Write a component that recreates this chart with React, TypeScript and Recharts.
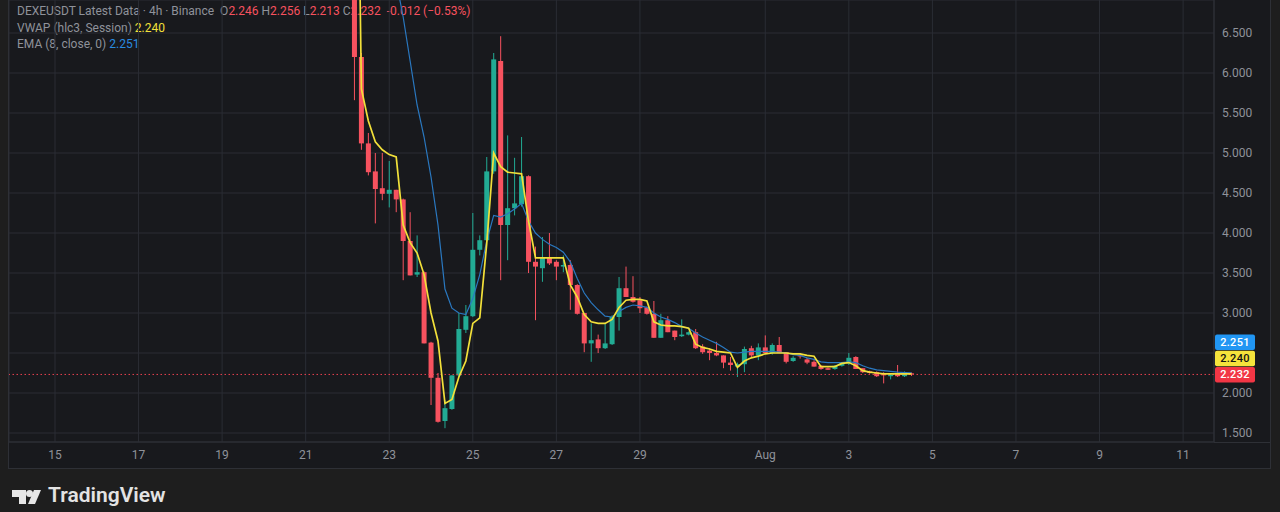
import { Bar, CartesianGrid, ComposedChart, Line, ReferenceLine, XAxis, YAxis } from 'recharts'

// 4h candles, first one opens Jul 22 04:00 (days counted from Jul 15 00:00)
const START_DAY = 7
const FIRST_HOUR = 4

const open = [
  7.3, 6.2, 5.12, 4.77, 4.56, 4.49, 4.54, 4.42, 3.9, 3.48,
  3.51, 2.63, 2.19, 1.65, 1.8, 2.22, 2.79, 2.96, 3.79, 3.91,
  4.77, 6.15, 4.1, 4.31, 4.36, 4.71, 3.64, 3.56, 3.69, 3.64,
  3.58, 3.6, 3.35, 3.0, 2.62, 2.67, 2.56, 2.61, 2.95, 3.31,
  3.2, 3.16, 3.07, 2.99, 2.69, 2.91, 2.78, 2.71, 2.73, 2.76,
  2.58, 2.53, 2.5, 2.47, 2.38, 2.33, 2.36, 2.56, 2.47, 2.57,
  2.5, 2.6, 2.51, 2.4, 2.47, 2.42, 2.39, 2.34, 2.31, 2.3,
  2.34, 2.37, 2.45, 2.31, 2.27, 2.26, 2.25, 2.21, 2.24, 2.21,
  2.246,
]
const high = [
  7.6, 6.25, 5.25, 5.0, 5.0, 4.9, 4.54, 4.43, 4.26, 3.97,
  3.52, 2.64, 2.25, 1.91, 2.22, 3.0, 3.1, 4.25, 3.97, 4.95,
  6.25, 6.46, 5.22, 4.94, 5.2, 4.72, 3.83, 3.95, 4.0, 3.66,
  3.72, 3.66, 3.36, 3.0, 2.87, 2.73, 2.87, 2.97, 3.45, 3.58,
  3.46, 3.2, 3.08, 3.15, 2.99, 2.96, 2.78, 2.92, 2.77, 2.8,
  2.61, 2.56, 2.64, 2.47, 2.45, 2.38, 2.58, 2.59, 2.62, 2.72,
  2.62, 2.7, 2.51, 2.46, 2.5, 2.44, 2.41, 2.35, 2.32, 2.35,
  2.38, 2.5, 2.46, 2.31, 2.28, 2.27, 2.26, 2.24, 2.35, 2.27,
  2.256,
]
const low = [
  5.66, 5.04, 4.72, 4.12, 4.41, 4.32, 4.26, 3.41, 3.47, 3.45,
  2.62, 1.85, 1.63, 1.56, 1.79, 2.2, 2.75, 2.95, 3.72, 3.9,
  4.74, 3.41, 3.66, 4.22, 4.33, 3.5, 2.91, 3.39, 3.6, 3.41,
  3.51, 3.04, 2.98, 2.51, 2.39, 2.5, 2.55, 2.6, 2.78, 3.2,
  3.13, 3.0, 2.98, 2.69, 2.69, 2.76, 2.66, 2.7, 2.72, 2.55,
  2.49, 2.41, 2.46, 2.31, 2.28, 2.2, 2.26, 2.45, 2.41, 2.5,
  2.48, 2.5, 2.37, 2.39, 2.43, 2.36, 2.33, 2.29, 2.29, 2.29,
  2.33, 2.35, 2.3, 2.25, 2.24, 2.2, 2.12, 2.17, 2.2, 2.2,
  2.213,
]
const close = [
  6.2, 5.12, 4.76, 4.55, 4.49, 4.54, 4.42, 3.9, 3.47, 3.51,
  2.62, 2.19, 1.64, 1.81, 2.22, 2.8, 2.96, 3.79, 3.91, 4.77,
  6.17, 4.1, 4.31, 4.37, 4.71, 3.64, 3.58, 3.69, 3.62, 3.58,
  3.6, 3.35, 2.99, 2.62, 2.66, 2.56, 2.62, 2.95, 3.31, 3.2,
  3.14, 3.06, 2.99, 2.69, 2.91, 2.76, 2.7, 2.73, 2.76, 2.56,
  2.51, 2.5, 2.47, 2.38, 2.35, 2.36, 2.55, 2.47, 2.57, 2.5,
  2.6, 2.5, 2.39, 2.44, 2.46, 2.38, 2.33, 2.3, 2.29, 2.34,
  2.37, 2.44, 2.3, 2.26, 2.25, 2.21, 2.22, 2.23, 2.21, 2.26,
  2.232,
]
const vwap = [
  12, 5.8, 5.4, 5.14, 5.04, 4.98, 4.95, 4.1, 3.88, 3.75,
  3.48, 3.0, 2.65, 1.87, 1.92, 2.2, 2.4, 2.87, 2.94, 3.87,
  5.0, 4.83, 4.76, 4.75, 4.74, 4.15, 3.69, 3.69, 3.69, 3.69,
  3.69, 3.35, 3.2, 2.98, 2.89, 2.87, 2.87, 2.92, 3.07, 3.16,
  3.17, 3.17, 3.15, 2.89, 2.85, 2.84, 2.84, 2.83, 2.81, 2.61,
  2.57, 2.55, 2.52, 2.51, 2.5, 2.32, 2.4, 2.44, 2.46, 2.49,
  2.5, 2.5, 2.5, 2.49, 2.49, 2.47, 2.46, 2.33, 2.33, 2.33,
  2.37, 2.38, 2.34, 2.28, 2.26, 2.25, 2.24, 2.24, 2.24, 2.24,
  2.24,
]
const ema = [
  11.5, 10.6, 9.7, 8.9, 8.2, 7.6, 7.15, 6.7, 6.15, 5.6,
  5.2, 4.7, 4.1, 3.3, 3.06, 3.0, 2.98, 3.18, 3.48, 3.9,
  4.22, 4.2, 4.24, 4.3, 4.37, 4.15, 4.0, 3.92, 3.86, 3.82,
  3.76, 3.64, 3.43, 3.25, 3.13, 3.04, 2.96, 2.95, 3.02, 3.07,
  3.1, 3.09, 3.07, 3.0, 2.95, 2.92, 2.88, 2.83, 2.81, 2.75,
  2.7, 2.66, 2.62, 2.57, 2.51, 2.5, 2.51, 2.52, 2.52, 2.52,
  2.52, 2.51, 2.5, 2.48, 2.47, 2.44, 2.42, 2.39, 2.38, 2.38,
  2.38, 2.39, 2.38, 2.34, 2.31, 2.29, 2.28, 2.27, 2.26, 2.255,
  2.251,
]

const xTicks = [0, 2, 4, 6, 8, 10, 12, 14, 17, 19, 21, 23, 25, 27]
const xLabels = ['15', '17', '19', '21', '23', '25', '27', '29', 'Aug', '3', '5', '7', '9', '11']
const yTicks = [1.5, 2, 2.5, 3, 3.5, 4, 4.5, 5, 5.5, 6, 6.5]
// 2.500 sits under the last-value tags on the price scale
const hiddenYTick = 2.5

const UP = '#22ab94'
const DOWN = '#f7525f'
const TEXT = '#8f929a'
const GRID = '#2a2d34'
const FONT = 'Roboto, "Noto Sans", sans-serif'

const data = open.map((o, i) => ({
  t: START_DAY + (FIRST_HOUR + 4 * i) / 24,
  open: o,
  high: high[i],
  low: low[i],
  close: close[i],
  range: [low[i], high[i]],
  vwap: vwap[i],
  ema: ema[i],
}))

function Candle(props: any) {
  const { x, y, width, height, payload } = props
  if (!payload) return null
  const top = Math.min(y, y + height)
  const h = Math.abs(height)
  const span = payload.high - payload.low || 1
  const py = (v: number) => top + ((payload.high - v) / span) * h
  const up = payload.close >= payload.open
  const color = up ? UP : DOWN
  const cx = x + width / 2
  const b1 = py(Math.max(payload.open, payload.close))
  const b2 = py(Math.min(payload.open, payload.close))
  return (
    <g>
      <line x1={cx} x2={cx} y1={top} y2={top + h} stroke={color} strokeWidth={1} />
      <rect x={x} y={b1} width={width} height={Math.max(1, b2 - b1)} fill={color} />
    </g>
  )
}

function PriceTag({ viewBox, value, bg, fg, shift }: any) {
  if (!viewBox) return null
  const x = viewBox.x + viewBox.width + 1
  const cy = viewBox.y + shift
  return (
    <g>
      <rect x={x} y={cy - 7.5} width={40} height={15.5} rx={2} fill={bg} />
      <text x={x + 20} y={cy + 4} textAnchor="middle" fontSize={11} fontWeight={500} letterSpacing={0.3} fill={fg} fontFamily={FONT}>
        {value}
      </text>
    </g>
  )
}

export default function App() {
  return (
    <div style={{ position: 'fixed', left: 0, top: 0, width: 1280, height: 512, background: '#1e1e1e', overflow: 'hidden', fontFamily: FONT }}>
      <div style={{ position: 'absolute', left: 8, top: 0, width: 1263, height: 469, boxSizing: 'border-box', background: '#18191d', border: '1px solid #2e3036', borderTop: 'none' }} />
      <div style={{ position: 'absolute', left: 17, top: 3, fontSize: 12, lineHeight: '16.5px', color: TEXT, whiteSpace: 'pre' }}>
        <div>
          DEXEUSDT Latest Data · 4h · Binance{'  '}O<span style={{ color: DOWN }}>2.246</span>{' '}H<span style={{ color: DOWN }}>2.256</span>{' '}L<span style={{ color: DOWN }}>2.213</span>{' '}C<span style={{ color: DOWN }}>2.232</span>{'  '}<span style={{ color: DOWN }}>-0.012 (−0.53%)</span>
        </div>
        <div>
          VWAP (hlc3, Session){' '}<span style={{ color: '#f2e03a' }}>2.240</span>
        </div>
        <div>
          EMA (8, close, 0){' '}<span style={{ color: '#2a8be0' }}>2.251</span>
        </div>
      </div>
      <div style={{ position: 'absolute', left: 9, top: 0 }}>
        <ComposedChart width={1261} height={468} data={data} margin={{ top: 0, right: 0, bottom: 0, left: 0 }}>
          <CartesianGrid stroke={GRID} />
          <XAxis
            dataKey="t"
            type="number"
            domain={[-1.101, 27.74]}
            allowDataOverflow
            ticks={xTicks}
            interval={0}
            height={26}
            tickLine={false}
            axisLine={{ stroke: '#2e3036' }}
            tick={{ fill: TEXT, fontSize: 12, fontFamily: FONT }}
            tickFormatter={(v: number) => xLabels[xTicks.indexOf(v)] ?? ''}
          />
          <YAxis
            orientation="right"
            width={56}
            domain={[1.3875, 6.9125]}
            allowDataOverflow
            ticks={yTicks}
            interval={0}
            tickLine={false}
            axisLine={{ stroke: '#2e3036' }}
            tick={{ fill: TEXT, fontSize: 12, fontFamily: FONT }}
            tickFormatter={(v: number) => (v === hiddenYTick ? '' : v.toFixed(3))}
          />
          <ReferenceLine y={2.232} stroke="#e8404f" strokeDasharray="1.5 2.5" label={(p: any) => <PriceTag viewBox={p.viewBox} value="2.232" bg="#f23645" fg="#ffffff" shift={0} />} />
          <ReferenceLine y={2.24} stroke="none" label={(p: any) => <PriceTag viewBox={p.viewBox} value="2.240" bg="#f5e33b" fg="#131313" shift={-15.5} />} />
          <ReferenceLine y={2.251} stroke="none" label={(p: any) => <PriceTag viewBox={p.viewBox} value="2.251" bg="#2196f3" fg="#ffffff" shift={-31} />} />
          <Bar dataKey="range" barSize={5} shape={(p: any) => <Candle {...p} />} isAnimationActive={false} />
          <Line dataKey="ema" type="linear" stroke="#2a78c0" strokeWidth={1.2} dot={false} activeDot={false} isAnimationActive={false} />
          <Line dataKey="vwap" type="linear" stroke="#f2e03a" strokeWidth={1.7} dot={false} activeDot={false} isAnimationActive={false} />
        </ComposedChart>
      </div>
      <div style={{ position: 'absolute', left: 1214, top: 442, width: 56, height: 1, background: '#2e3036' }} />
      <svg style={{ position: 'absolute', left: 12, top: 489 }} width={30} height={16}>
        <path d="M0 1 H14 V15 H7 V8 H0 Z" fill="#e6e6e6" />
        <circle cx={17.5} cy={4.5} r={3.5} fill="#e6e6e6" />
        <path d="M22 1 H29 L23 15 H16 Z" fill="#e6e6e6" />
      </svg>
      <div style={{ position: 'absolute', left: 48, top: 483, fontSize: 21, fontWeight: 600, color: '#e3e3e3' }}>
        TradingView
      </div>
    </div>
  )
}
